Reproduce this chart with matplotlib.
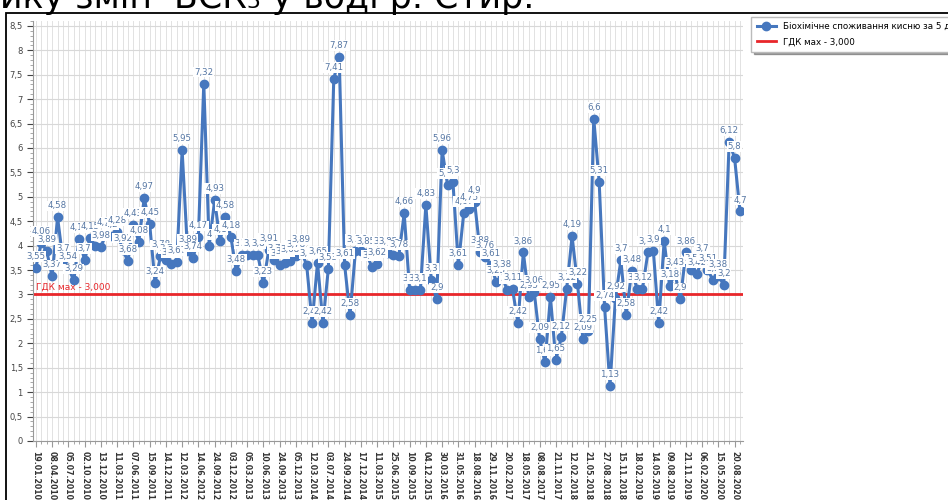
import matplotlib.pyplot as plt
import numpy as np
from matplotlib.patches import Rectangle
from matplotlib.ticker import MultipleLocator, FixedLocator

# BOD5 values, one per sampling date
bod5 = [3.55, 4.06, 3.89, 3.37, 4.58, 3.7, 3.54, 3.29, 4.14, 3.7,
        4.15, 4.0, 3.98, 4.24, 4.2, 4.28, 3.92, 3.68, 4.43, 4.08,
        4.97, 4.45, 3.24, 3.78, 3.7, 3.62, 3.67, 5.95, 3.89, 3.74,
        4.17, 7.32, 4.0, 4.93, 4.1, 4.58, 4.18, 3.48, 3.8, 3.8,
        3.81, 3.8, 3.23, 3.91, 3.7, 3.61, 3.65, 3.68, 3.78, 3.89,
        3.6, 2.42, 3.65, 2.42, 3.53, 7.41, 7.87, 3.61, 2.58, 3.89,
        3.9, 3.85, 3.57, 3.62, 3.86, 3.85, 3.8, 3.78, 4.66, 3.1,
        3.1, 3.1, 4.83, 3.3, 2.9, 5.96, 5.25, 5.3, 3.61, 4.67,
        4.75, 4.9, 3.88, 3.76, 3.61, 3.25, 3.38, 3.1, 3.11, 2.42,
        3.86, 2.95, 3.06, 2.09, 1.61, 2.95, 1.65, 2.12, 3.12, 4.19,
        3.22, 2.09, 2.25, 6.6, 5.31, 2.74, 1.13, 2.92, 3.7, 2.58,
        3.48, 3.12, 3.12, 3.86, 3.9, 2.42, 4.1, 3.18, 3.43, 2.9,
        3.86, 3.5, 3.42, 3.7, 3.51, 3.3, 3.38, 3.2, 6.12, 5.8, 4.7]

# every third date is labelled on the axis
date_labels = ["19.01.2010", "08.04.2010", "05.07.2010", "02.10.2010", "13.12.2010",
               "11.03.2011", "07.06.2011", "15.09.2011", "14.12.2011", "12.03.2012",
               "14.06.2012", "24.09.2012", "03.12.2012", "05.03.2013", "10.06.2013",
               "24.09.2013", "05.12.2013", "12.03.2014", "03.07.2014", "24.09.2014",
               "17.12.2014", "11.03.2015", "25.06.2015", "10.09.2015", "04.12.2015",
               "30.03.2016", "31.05.2016", "18.08.2016", "29.11.2016", "20.02.2017",
               "18.05.2017", "08.08.2017", "21.11.2017", "12.02.2018", "21.05.2018",
               "27.08.2018", "15.11.2018", "18.02.2019", "14.05.2019", "09.08.2019",
               "21.11.2019", "06.02.2020", "15.05.2020", "20.08.2020"]

gdk = 3.0
series_name = "Біохімічне споживання кисню за 5 діб, мгО2/дм3"
gdk_name = "ГДК мах - 3,000"

blue = '#4677BE'
lblue = '#5576A3'

fig = plt.figure(figsize=(9.48, 5.0), dpi=100)
ax = fig.add_axes([0.035, 0.118, 0.749, 0.84])

x = np.arange(len(bod5))
ax.plot(x, bod5, color=blue, lw=2.2, marker='o', ms=6, zorder=3,
        label=series_name)
ax.plot([-0.5, len(bod5) - 0.5], [gdk, gdk], color='#E8262A', lw=2, zorder=2,
        label=gdk_name)

for xi, v in zip(x, bod5):
    ax.annotate('{:g}'.format(v).replace('.', ','), (xi, v), xytext=(0, 5),
                textcoords='offset points', ha='center', va='bottom',
                fontsize=6.2, color=lblue, zorder=4,
                bbox=dict(boxstyle='square,pad=0.1', fc='white', ec='none'))

ax.text(0.0, gdk + 0.06, gdk_name, color='#E8262A', fontsize=6.5,
        ha='left', va='bottom', zorder=5)

ax.set_xlim(-0.5, len(bod5) - 0.4)
ax.set_ylim(0, 8.6)
ax.yaxis.set_major_locator(MultipleLocator(0.5))
ax.yaxis.set_minor_locator(MultipleLocator(0.1))
ax.set_yticklabels(['{:g}'.format(t).replace('.', ',') for t in ax.get_yticks()])
ax.set_xticks(np.arange(0, len(bod5), 3)[:len(date_labels)])
ax.set_xticklabels(date_labels, rotation=270, fontsize=5.6, fontweight='bold',
                   color='#333333')
ax.xaxis.set_minor_locator(FixedLocator(x))
ax.tick_params(axis='y', labelsize=6, colors='#444444', length=4)
ax.tick_params(axis='x', length=4, colors='#999999', labelcolor='#333333')
ax.tick_params(which='minor', length=2, colors='#999999')

ax.grid(True, which='major', axis='y', color='#D8D8D8', lw=0.8)
ax.grid(True, which='minor', axis='x', color='#E2E2E2', lw=0.7)
ax.grid(True, which='major', axis='x', color='#E2E2E2', lw=0.7)
ax.set_axisbelow(True)
for s in ['top', 'right']:
    ax.spines[s].set_visible(False)
for s in ['left', 'bottom']:
    ax.spines[s].set_color('#999999')

leg = fig.legend(loc='upper left', bbox_to_anchor=(0.788, 0.975), fontsize=6.3,
                 frameon=True, fancybox=False, shadow=True, edgecolor='#BBBBBB',
                 handlelength=2.2, borderpad=0.6, labelspacing=0.7)

# cropped heading and frame of the source slide
fig.text(0.0, 1 - 8 / 500, "ику змін  БСК₅ у воді р. Стир.", fontsize=25,
         va='baseline', ha='left')
fig.add_artist(Rectangle((0.006, -0.1), 1.2, 1 - 13 / 500 + 0.1,
                         transform=fig.transFigure, fill=False, lw=1.3,
                         ec='black'))

fig.savefig('out.png', dpi=100)
